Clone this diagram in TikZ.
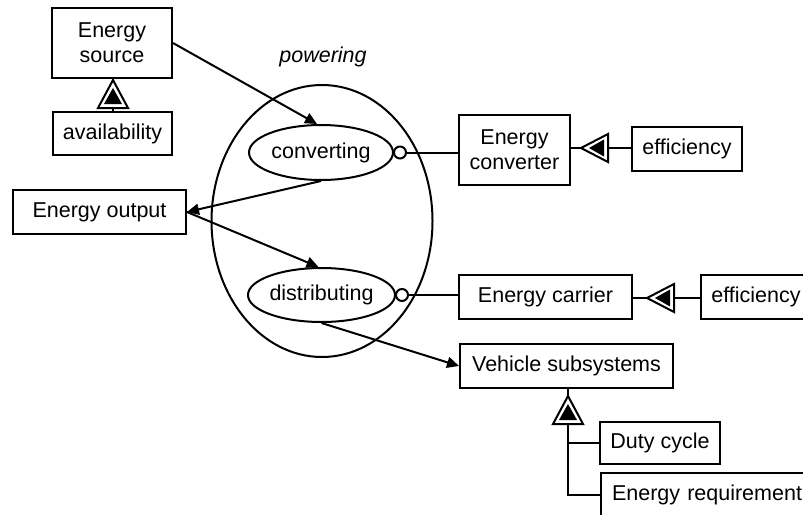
\documentclass[tikz,border=0pt]{standalone}
\usepackage{fontspec}
\setmainfont{Liberation Sans}
\usetikzlibrary{shapes.geometric,arrows.meta}
\tikzset{
  box/.style={draw,line width=2pt,inner sep=0pt,align=center,font=\fontsize{21.5}{25}\selectfont},
  proc/.style={draw,ellipse,line width=2pt,inner sep=0pt,font=\fontsize{21.5}{25}\selectfont},
  lnk/.style={line width=2pt},
  arr/.style={line width=2pt,-{Triangle[length=12pt,width=11pt]}},
  inst/.style={circle,draw,fill=white,line width=2pt,minimum size=12pt,inner sep=0pt},
  pics/exhup/.style={code={
    \draw[line width=2pt,fill=white] (0,0) -- (-15,28) -- (15,28) -- cycle;
    \fill (0,8) -- (-9,24) -- (9,24) -- cycle;}},
  pics/exhleft/.style={code={
    \draw[line width=2pt,fill=white] (0,0) -- (27,-14) -- (27,14) -- cycle;
    \fill (8,0) -- (23,-8.5) -- (23,8.5) -- cycle;}}
}
\begin{document}
\begin{tikzpicture}[x=1pt,y=-1pt]
\useasboundingbox (0,0) rectangle (803,514);
% boxes
\node[box,minimum width=120pt,minimum height=70pt] (src) at (112,43) {Energy\\source};
\node[box,minimum width=119pt,minimum height=43pt] (avail) at (112.5,133.5) {availability};
\node[box,minimum width=173pt,minimum height=44pt] (out) at (99.5,212) {Energy output};
\node[box,minimum width=111pt,minimum height=70pt] (conv) at (514.5,150) {Energy\\converter};
\node[box,minimum width=110pt,minimum height=44pt] (eff1) at (687,149) {efficiency};
\node[box,minimum width=173pt,minimum height=44pt] (carr) at (545.5,297) {Energy carrier};
\node[box,minimum width=110pt,minimum height=44pt,anchor=west] (eff2) at (700,297) {efficiency};
\node[box,minimum width=213pt,minimum height=44pt] (veh) at (566.5,366) {Vehicle subsystems};
\node[box,minimum width=120pt,minimum height=42pt] (duty) at (660,443) {Duty cycle};
\node[box,minimum width=218pt,minimum height=44pt,anchor=west,text width=196pt,align=left] (req) at (600,495) {Energy requirement};
% processes
\node[proc,minimum width=221pt,minimum height=272pt] (pow) at (322,221) {};
\node[font=\fontsize{21.5}{25}\selectfont\itshape] (powlbl) at (323,57) {powering};
\node[proc,minimum width=144pt,minimum height=55pt] (cv) at (321,152.5) {converting};
\node[proc,minimum width=146pt,minimum height=54pt] (ds) at (321.5,295) {distributing};
% instrument links
\node[inst] (c1) at ([xshift=6pt]cv.east) {};
\node[inst] (c2) at ([xshift=6pt]ds.east) {};
\draw[lnk] (c1) -- (c1 -| conv.west);
\draw[lnk] (c2) -- (c2 -| carr.west);
% arrows
\draw[arr] (src.east) -- ([xshift=-4pt]cv.north);
\draw[arr] (cv.south) -- (out.east);
\draw[arr] (out.east) -- ([xshift=-3pt]ds.north);
\draw[arr] (ds.south) -- (veh.west);
% exhibition links
\pic at (113,80) {exhup};
\coordinate (t1b) at (113,108);
\draw[lnk] (t1b) -- (t1b |- avail.north);
\coordinate (t1a) at (113,80);
\draw[lnk] (t1a) -- (t1a |- src.south);
\pic at (581,148) {exhleft};
\coordinate (t2a) at (581,148);
\coordinate (t2b) at (608,148);
\draw[lnk] (t2a) -- (t2a -| conv.east);
\draw[lnk] (t2b) -- (t2b -| eff1.west);
\pic at (647,298) {exhleft};
\coordinate (t3a) at (647,298);
\coordinate (t3b) at (674,298);
\draw[lnk] (t3a) -- (t3a -| carr.east);
\draw[lnk] (t3b) -- (t3b -| eff2.west);
\pic at (568,396) {exhup};
\coordinate (t4a) at (568,396);
\coordinate (t4b) at (568,424);
\draw[lnk] (t4a) -- (t4a |- veh.south);
\draw[lnk] (t4b) |- (req.west);
\draw[lnk] (t4b |- duty.west) -- (duty.west);
\end{tikzpicture}
\end{document}
